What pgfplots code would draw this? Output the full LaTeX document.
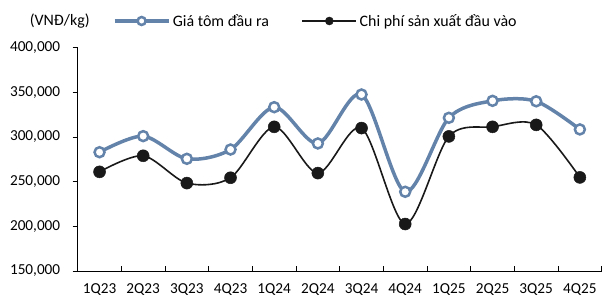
\documentclass[border=0pt]{standalone}
\usepackage{fontspec}
\setmainfont{Carlito}
\usepackage{pgfplots}
\pgfplotsset{compat=1.18}
\definecolor{blueline}{RGB}{100,131,170}
\begin{document}
\begin{tikzpicture}[x=1bp,y=1bp]
\begin{axis}[
  at={(0bp,0bp)}, anchor=south west,
  scale only axis, width=524bp, height=223.3bp,
  xmin=-0.5, xmax=11.5, ymin=150000, ymax=400000,
  axis x line*=bottom, axis y line*=left,
  axis line style={black, line width=0.8bp},
  xtick={0,...,11},
  xticklabels={1Q23,2Q23,3Q23,4Q23,1Q24,2Q24,3Q24,4Q24,1Q25,2Q25,3Q25,4Q25},
  minor xtick={-0.5,0.5,...,11.5},
  major x tick style={draw=none},
  minor x tick style={black, line width=0.8bp},
  minor tick length=5bp,
  xtick align=inside,
  ytick={150000,200000,...,400000},
  ytick align=outside,
  major tick length=5bp,
  major y tick style={black, line width=0.8bp},
  scaled y ticks=false,
  yticklabel style={/pgf/number format/fixed, /pgf/number format/1000 sep={,}, /pgf/number format/assume math mode=true},
  tick label style={font=\fontsize{15.3}{18}\selectfont, text=black},
  xticklabel style={yshift=-9bp},
  yticklabel style={xshift=-9bp},
  legend columns=2,
  legend style={at={(35/524,250/223.3)}, anchor=west, draw=none, fill=none,
    inner sep=0pt, font=\fontsize{16}{19}\selectfont,
    nodes={inner sep=2.5bp},
    /tikz/every even column/.append style={column sep=30bp}},
  legend image code/.code={\draw[mark repeat=2, mark phase=2, #1, mark size=4bp] plot coordinates {(0bp,0bp) (27bp,0bp) (54bp,0bp)};},
]
\addplot[blueline, line width=3.5bp, smooth, tension=0.5, mark=*, mark size=5bp,
  mark options={fill=white, draw=blueline, line width=2.5bp}]
  coordinates {(0,283000) (1,301000) (2,275600) (3,286000) (4,333400) (5,292800)
               (6,347600) (7,238700) (8,321500) (9,340500) (10,340000) (11,308500)};
\addlegendentry{Giá tôm đầu ra}
\addplot[black!90, line width=1.6bp, smooth, tension=0.5, mark=*, mark size=6bp,
  mark options={fill=black!90, draw=black!90, line width=0.5bp}]
  coordinates {(0,261000) (1,279000) (2,248400) (3,254400) (4,311400) (5,259600)
               (6,310000) (7,202600) (8,300700) (9,311400) (10,313600) (11,254800)};
\addlegendentry{Chi phí sản xuất đầu vào}
\end{axis}
\node[font=\fontsize{16}{19}\selectfont] at (-18bp,250bp) {(VNĐ/kg)};
\pgfresetboundingbox
\path[use as bounding box] (-77.7bp,-27bp) rectangle (524.3bp,271bp);
\end{tikzpicture}
\end{document}
